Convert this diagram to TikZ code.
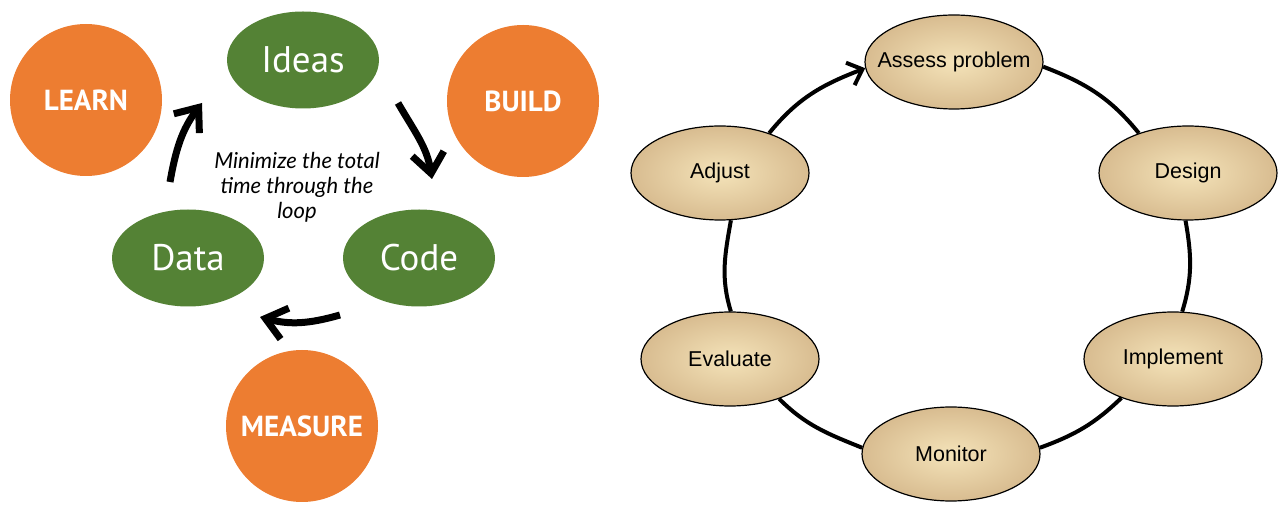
\documentclass[tikz,border=0pt]{standalone}
\usepackage{fontspec}
\setmainfont{Liberation Sans}
\newfontfamily\ptsans{PT Sans}
\newfontfamily\lato{Lato}
\usetikzlibrary{arrows.meta,shapes.geometric}
\definecolor{orangeL}{HTML}{ED7D31}
\definecolor{vertL}{HTML}{548235}
\definecolor{sableC}{HTML}{F4E3B9}
\definecolor{sableB}{HTML}{D8BC90}

\begin{document}
\begin{tikzpicture}[x=1pt, y=1pt]
\tikzset{rond/.style={circle, fill=orangeL, minimum size=152pt, text=white, font=\ptsans\bfseries\fontsize{29}{34}\selectfont}}
\tikzset{ovale/.style={ellipse, fill=vertL, minimum width=152pt, minimum height=97pt, text=white, font=\ptsans\fontsize{37}{42}\selectfont}}
\tikzset{etape/.style={ellipse, draw, line width=1.2pt, inner color=sableC, outer color=sableB, minimum width=178pt, minimum height=94pt, inner sep=0pt, font=\fontsize{21.5}{25}\selectfont}}
\tikzset{grosse/.style={line width=7pt, -{Straight Barb[length=20pt, width=32pt]}}}
\tikzset{lien/.style={line width=4pt}}
\useasboundingbox (0,0) rectangle (1285,522);
% build - measure - learn
\node[rond] (Learn) at (86,422) {LEARN};
\node[rond] (Build) at (523,421) {BUILD};
\node[rond] (Measure) at (302,96) {MEASURE};
\node[ovale] (Ideas) at (303,462) {Ideas};
\node[ovale] (Code) at (419,264) {Code};
\node[ovale] (Data) at (188,264) {Data};
\node[font=\lato\itshape\fontsize{22}{25}\selectfont, align=center] (Slogan) at (297,335) {Minimize the total\\time through the\\loop};
\coordinate (F1a) at (170,340);
\coordinate (F1b) at (202,419);
\coordinate (F2a) at (398,419);
\coordinate (F2b) at (432,343);
\coordinate (F3a) at (340,207);
\coordinate (F3b) at (260,205);
\draw[grosse] (F1a) to[out=80, in=233] (F1b);
\draw[grosse] (F2a) to[out=-60, in=99] (F2b);
\draw[grosse] (F3a) to[out=196, in=-15] (F3b);
% cycle
\node[etape] (Assess) at (954,460) {\makebox[0pt]{Assess problem}};
\node[etape] (Design) at (1188,349) {Design};
\node[etape] (Implement) at (1173,163) {Implement};
\node[etape] (Monitor) at (951,68) {Monitor};
\node[etape] (Evaluate) at (730,163) {Evaluate};
\node[etape] (Adjust) at (720,349) {Adjust};
\draw[lien] (Assess.-3) to[out=-21, in=129] (Design.141);
\draw[lien] (Design.-93) to[out=-80, in=73] (Implement.79);
\draw[lien] (Implement.-143) to[out=224, in=20] (Monitor.4);
\draw[lien] (Monitor.176) to[out=158, in=-45] (Evaluate.-39);
\draw[lien] (Evaluate.89) to[out=107, in=-100] (Adjust.-77);
\draw[lien, -{Straight Barb[length=13pt, width=24pt]}] (Adjust.39) to[out=51, in=201] (Assess.184);
\end{tikzpicture}
\end{document}
